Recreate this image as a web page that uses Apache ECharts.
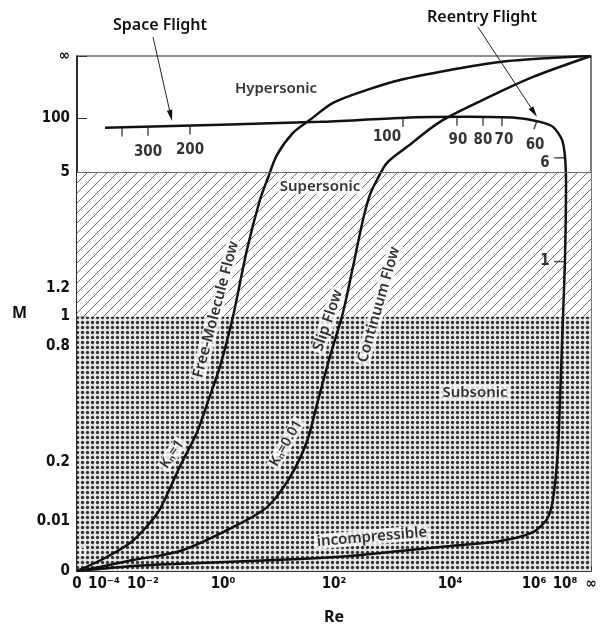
<!DOCTYPE html>
<html>
<head>
<meta charset="utf-8">
<script src="https://cdn.jsdelivr.net/npm/echarts@6/dist/echarts.min.js"></script>
<style>html,body{margin:0;padding:0;background:#fff}#c{width:607px;height:630px}</style>
</head>
<body>
<div id="c"></div>
<script>
// ---- Axis ticks (display positions on the chart's schematic, non-linear scales) ----
const xTickLabels = ['0', '10⁻⁴', '10⁻²', '10⁰', '10²', '10⁴', '10⁶', '10⁸', '∞'];
const xTickPos    = [0, 5.25, 12.84, 28.40, 50.0, 72.57, 88.91, 94.94, 100];
const yTickLabels = ['0', '0.01', '0.2', '0.8', '1', '1.2', '5', '100', '∞'];
const yTickPos    = [0, 9.69, 21.12, 43.60, 49.42, 54.84, 77.52, 87.98, 100];

// ---- Regime boundaries (M) ----
const subsonicTop = 49.42;   // M = 1
const supersonicTop = 77.52; // M = 5

// ---- Curves [Re position, M position] ----
const freeMolecule = [[0,0],[5.06,2.33],[10.31,5.43],[13.62,8.72],[16.15,12.02],[20.04,20.35],[23.35,26.94],[25.49,32.95],[27.82,39.73],[30.35,49.42],[33.07,62.40],[35.60,72.09],[37.16,76.36],[38.91,80.81],[42.02,85.08],[45.33,87.60],[49.81,90.89],[56.42,93.41],[62.84,95.35],[72.57,97.29],[82.30,98.84],[92.02,99.61],[100,100]];
const slipContinuum = [[0,0],[4.47,0.78],[10.89,2.13],[20.04,3.88],[30.35,8.53],[36.96,12.40],[41.44,18.22],[44.75,25.19],[46.69,32.36],[49.22,41.67],[51.75,50.19],[53.70,59.11],[55.64,68.22],[57.00,73.06],[58.37,75.97],[60.31,79.26],[64.20,82.36],[70.62,87.21],[78.99,91.47],[88.72,95.93],[100,100]];
const flightPath = [[5.45,86.05],[47.28,87.21],[62.84,87.98],[75.88,88.18],[85.60,87.98],[90.08,87.21],[92.61,86.24],[94.36,83.72],[94.94,80.43],[95.14,75.39],[94.94,60.47],[94.55,49.42],[93.97,33.33],[93.58,23.64],[92.61,13.95],[91.44,10.08],[88.72,7.56],[82.30,5.81],[72.57,4.84],[62.84,3.88],[53.11,2.91],[43.39,2.33],[23.93,1.55],[10.89,0.97],[0,0]];

// ---- Altitude marks along flight path (km) ----
const altTickVert = [[8.75,86.14],[13.81,86.28],[21.98,86.51],[63.42,87.98],[73.93,88.18],[78.99,88.18],[82.68,88.10]];
const altTickTilt = [[89.49,87.4]];
const altTickHoriz = [[95.0,80.23],[94.94,60.08]];
const altLabels = ['300','200','100','90','80','70','60','6','1'];
const altLabelPos = [[13.81,81.40],[21.98,81.78],[60.31,84.30],[74.12,83.72],[78.99,83.72],[83.07,83.72],[89.11,82.75],[91.05,79.26],[91.05,60.08]];

// ---- Region / curve texts ----
const textLabels = ['Hypersonic','Supersonic','Subsonic','incompressible','Free-Molecule Flow','Slip Flow','Continuum Flow','Kₙ=1','Kₙ=0.01','0'];
const textPos = [[38.72,93.60],[47.28,74.61],[77.43,34.69],[57.39,6.59],[27.04,50.78],[48.83,48.64],[58.75,51.74],[18.48,22.67],[40.66,24.81],[1.17,3.68]];
const textRot = [0,0,0,5,75,71,74,56,60,0];
const textBoxed = [false,true,true,true,true,true,true,true,true,false];

// ---- Callouts ----
const callouts = ['Space Flight','Reentry Flight'];
const calloutText = [[16.15,105.93],[78.79,107.56]];
const calloutFrom = [[14.79,103.68],[78.02,105.62]];
const calloutTo = [[18.48,87.40],[89.49,88.18]];

const FONT = '"Noto Sans", "DejaVu Sans", sans-serif';
const NUMFONT = '"Liberation Sans Narrow", "DejaVu Sans Condensed", "Roboto Condensed", Roboto, sans-serif';

function hatchPattern() {
  const c = document.createElement('canvas'); c.width = 10; c.height = 10;
  const g = c.getContext('2d');
  g.fillStyle = '#fff'; g.fillRect(0,0,10,10);
  g.strokeStyle = '#6e6e6e'; g.lineWidth = 1;
  g.beginPath();
  g.moveTo(-5,5); g.lineTo(5,-5);
  g.moveTo(0,10); g.lineTo(10,0);
  g.moveTo(5,15); g.lineTo(15,5);
  g.stroke();
  return c;
}
function dotPattern() {
  const c = document.createElement('canvas'); c.width = 5; c.height = 5;
  const g = c.getContext('2d');
  g.fillStyle = '#e9e9e9'; g.fillRect(0,0,5,5);
  g.fillStyle = '#333';
  g.beginPath(); g.arc(2.5, 2.5, 1.65, 0, Math.PI * 2); g.fill();
  return c;
}
function lookup(val, pos, labels) {
  for (let i = 0; i < pos.length; i++) if (Math.abs(pos[i] - val) < 0.01) return labels[i];
  return '';
}

const chart = echarts.init(document.getElementById('c'), null, {renderer: 'canvas'});
const curveStyle = {color: '#111', width: 2.5};

chart.setOption({
  animation: false,
  backgroundColor: '#fff',
  grid: {left: 77, right: 16, top: 56, bottom: 58, show: true, borderColor: '#222', borderWidth: 1.2, backgroundColor: 'transparent'},
  xAxis: {
    type: 'value', min: 0, max: 100,
    name: 'Re', nameLocation: 'middle', nameGap: 38,
    nameTextStyle: {fontFamily: FONT, fontSize: 16, color: '#111', fontWeight: 'bold'},
    axisLine: {lineStyle: {color: '#111', width: 1.5}},
    axisTick: {inside: true, length: 5, customValues: xTickPos, lineStyle: {color: '#333'}},
    axisLabel: {customValues: xTickPos, margin: 6, fontFamily: NUMFONT, fontSize: 15, fontWeight: 'bold', color: '#111',
      formatter: v => lookup(v, xTickPos, xTickLabels)},
    splitLine: {show: false}
  },
  yAxis: {
    type: 'value', min: 0, max: 100,
    name: 'M', nameLocation: 'middle', nameGap: 50, nameRotate: 0,
    nameTextStyle: {fontFamily: FONT, fontSize: 16, color: '#111', fontWeight: 'bold'},
    axisLine: {lineStyle: {color: '#111', width: 1.5}},
    axisTick: {inside: true, length: 10, customValues: yTickPos, lineStyle: {color: '#333'}},
    axisLabel: {customValues: yTickPos, margin: 7, fontFamily: NUMFONT, fontSize: 15, fontWeight: 'bold', color: '#111',
      formatter: v => lookup(v, yTickPos, yTickLabels)},
    splitLine: {show: false}
  },
  series: [
    {
      type: 'line', name: 'regions', data: [], silent: true,
      markArea: {
        silent: true,
        data: [
          [{xAxis: 0, yAxis: 0, itemStyle: {color: {image: dotPattern(), repeat: 'repeat'}}}, {xAxis: 100, yAxis: subsonicTop}],
          [{xAxis: 0, yAxis: subsonicTop, itemStyle: {color: {image: hatchPattern(), repeat: 'repeat'}}}, {xAxis: 100, yAxis: supersonicTop}]
        ]
      },
      markLine: {
        silent: true, symbol: ['none','none'], label: {show: false},
        lineStyle: {color: '#6a6a6a', width: 1, type: 'solid'},
        data: [{yAxis: supersonicTop}]
      }
    },
    {type: 'line', name: 'Free-Molecule', data: freeMolecule, symbol: 'none', smooth: 0.3, lineStyle: curveStyle, z: 3},
    {type: 'line', name: 'Slip/Continuum', data: slipContinuum, symbol: 'none', smooth: 0.3, lineStyle: curveStyle, z: 3},
    {type: 'line', name: 'Flight', data: flightPath, symbol: 'none', smooth: 0.25, lineStyle: curveStyle, z: 3},
    {type: 'scatter', data: altTickVert, symbol: 'rect', symbolSize: [1.5, 9], symbolOffset: [0, '50%'], itemStyle: {color: '#222'}, z: 4, silent: true},
    {type: 'scatter', data: altTickTilt, symbol: 'rect', symbolSize: [1.5, 9], symbolOffset: [-1.5, 4], symbolRotate: -20, itemStyle: {color: '#222'}, z: 4, silent: true},
    {type: 'scatter', data: altTickHoriz, symbol: 'rect', symbolSize: [10, 1.5], symbolOffset: ['-60%', 0], itemStyle: {color: '#222'}, z: 4, silent: true},
    {type: 'scatter', symbolSize: 0, z: 6, silent: true,
      data: altLabels.map((t, i) => ({value: altLabelPos[i], label: {show: true, position: 'inside', formatter: t,
        fontFamily: NUMFONT, fontSize: 15, fontWeight: 'bold', color: '#000'}}))},
    {type: 'scatter', symbolSize: 0, z: 6, silent: true,
      data: textLabels.map((t, i) => ({value: textPos[i], label: {show: true, position: 'inside', formatter: t, rotate: textRot[i],
        fontFamily: FONT, fontSize: (i >= 7 ? 14 : 15), fontWeight: 600, color: (i === 9 ? '#fff' : '#000'),
        backgroundColor: textBoxed[i] ? '#fff' : 'transparent', padding: textBoxed[i] ? [0, 2] : 0}}))}
  ]
});

// Callout arrows + texts, placed through the chart's own coordinate conversion
const graphics = [];
for (let i = 0; i < callouts.length; i++) {
  const p0 = chart.convertToPixel({gridIndex: 0}, calloutFrom[i]);
  const p1 = chart.convertToPixel({gridIndex: 0}, calloutTo[i]);
  const pt = chart.convertToPixel({gridIndex: 0}, calloutText[i]);
  const dx = p1[0] - p0[0], dy = p1[1] - p0[1], L = Math.hypot(dx, dy);
  const ux = dx / L, uy = dy / L, hl = 11, hw = 2.8;
  const bx = p1[0] - ux * hl, by = p1[1] - uy * hl;
  graphics.push({type: 'line', shape: {x1: p0[0], y1: p0[1], x2: bx, y2: by}, style: {stroke: '#222', lineWidth: 1}, z: 10});
  graphics.push({type: 'polygon', shape: {points: [[p1[0], p1[1]], [bx - uy * hw, by + ux * hw], [bx + uy * hw, by - ux * hw]]}, style: {fill: '#111'}, z: 10});
  graphics.push({type: 'text', x: pt[0], y: pt[1], style: {text: callouts[i], fontFamily: FONT, fontSize: 16, fontWeight: 600, fill: '#111', align: 'center', verticalAlign: 'middle'}, z: 10});
}
chart.setOption({graphic: graphics});
</script>
</body>
</html>
